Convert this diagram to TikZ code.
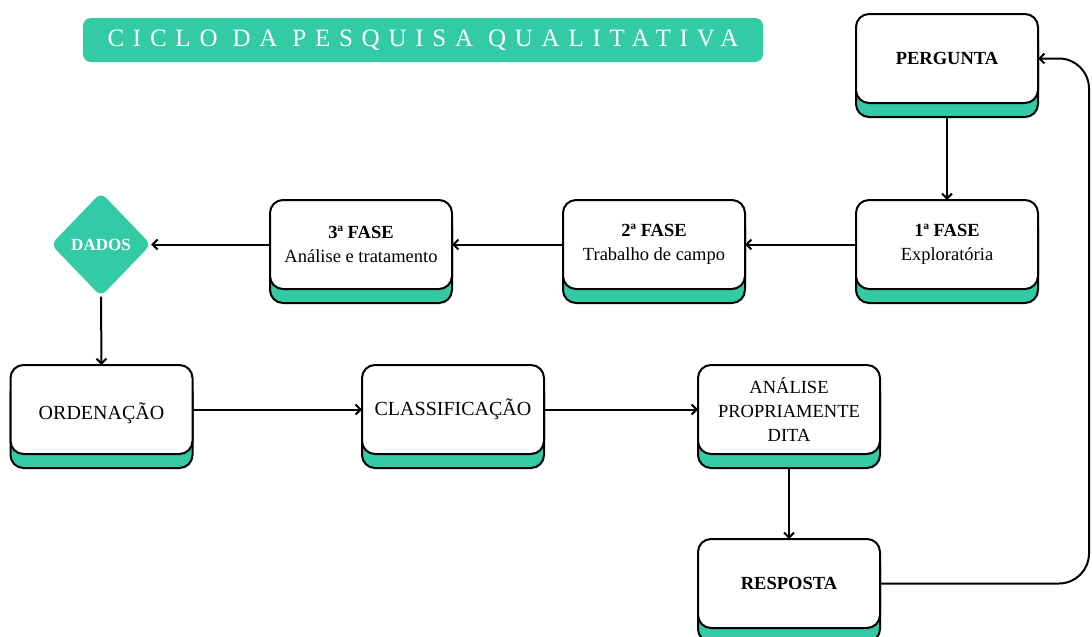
\documentclass[tikz,border=0pt]{standalone}
\usepackage{fontspec}
\setmainfont{Liberation Serif}
\usetikzlibrary{shapes.geometric,arrows.meta,backgrounds}
\definecolor{tealc}{RGB}{51,202,166}
\begin{document}
\begin{tikzpicture}[x=1pt,y=-1pt,
  card/.style={draw=black,line width=2pt,fill=white,rounded corners=13pt,
    minimum width=182pt,minimum height=89pt,inner sep=2pt,outer sep=0pt,
    align=center,font=\fontsize{18.5}{24}\selectfont},
  bigtext/.style={font=\fontsize{20}{24}\selectfont},
  cardshadow/.style={draw=black,line width=2pt,fill=tealc,rounded corners=13pt},
  arr/.style={line width=2pt,-{Straight Barb[length=5pt,width=10pt,line width=2pt]}},
]
\useasboundingbox (0,0) rectangle (1092,637);
\node[fill=tealc,rounded corners=8pt,minimum width=680pt,minimum height=44pt,inner sep=0pt] (title) at (423,40)
  {\fontsize{25}{25}\selectfont\addfontfeatures{LetterSpace=35}\color{white}CICLO DA PESQUISA QUALITATIVA\hspace{-6pt}};

\node[card] (perg) at (947,58.5) {\textbf{PERGUNTA}};
\node[card] (f1) at (947,244.5) {\textbf{1ª FASE}\\Exploratória};
\node[card] (f2) at (654,244.5) {\textbf{2ª FASE}\\Trabalho de campo};
\node[card] (f3) at (361,244.5) {\textbf{3ª FASE}\\Análise e tratamento};
\node[shape=diamond,fill=tealc,rounded corners=7pt,minimum width=100pt,minimum height=104pt,inner sep=0pt,
  font=\fontsize{17}{17}\selectfont\bfseries,text=white] (dados) at (101,244.5) {DADOS};
\node[card,bigtext] (ord) at (101.5,409.5) {\raisebox{-4pt}[\height][\depth]{ORDENAÇÃO}};
\node[card,bigtext] (cla) at (453,409.5) {CLASSIFICAÇÃO};
\node[card] (ana) at (789,409.5) {ANÁLISE\\PROPRIAMENTE\\DITA};
\node[card] (resp) at (789,583.5) {\textbf{RESPOSTA}};

\begin{scope}[on background layer]
\foreach \n in {perg,f1,f2,f3,ord,cla,ana,resp}
  \draw[cardshadow] ([yshift=-14pt]\n.north west) rectangle ([yshift=-14pt]\n.south east);
\end{scope}

\draw[arr] ([yshift=-14pt]perg.south) -- (f1.north);
\draw[arr] (f1.west) -- (f2.east);
\draw[arr] (f2.west) -- (f3.east);
\draw[arr] (f3.west) -- (dados.east);
\draw[arr] (dados.south) -- (ord.north);
\draw[arr] (ord.east) -- (cla.west);
\draw[arr] (cla.east) -- (ana.west);
\draw[arr] ([yshift=-14pt]ana.south) -- (resp.north);
\draw[arr,rounded corners=30pt] (resp.east) -- (1089,583.5) -- (1089,58.5) -- (perg.east);
\end{tikzpicture}
\end{document}
